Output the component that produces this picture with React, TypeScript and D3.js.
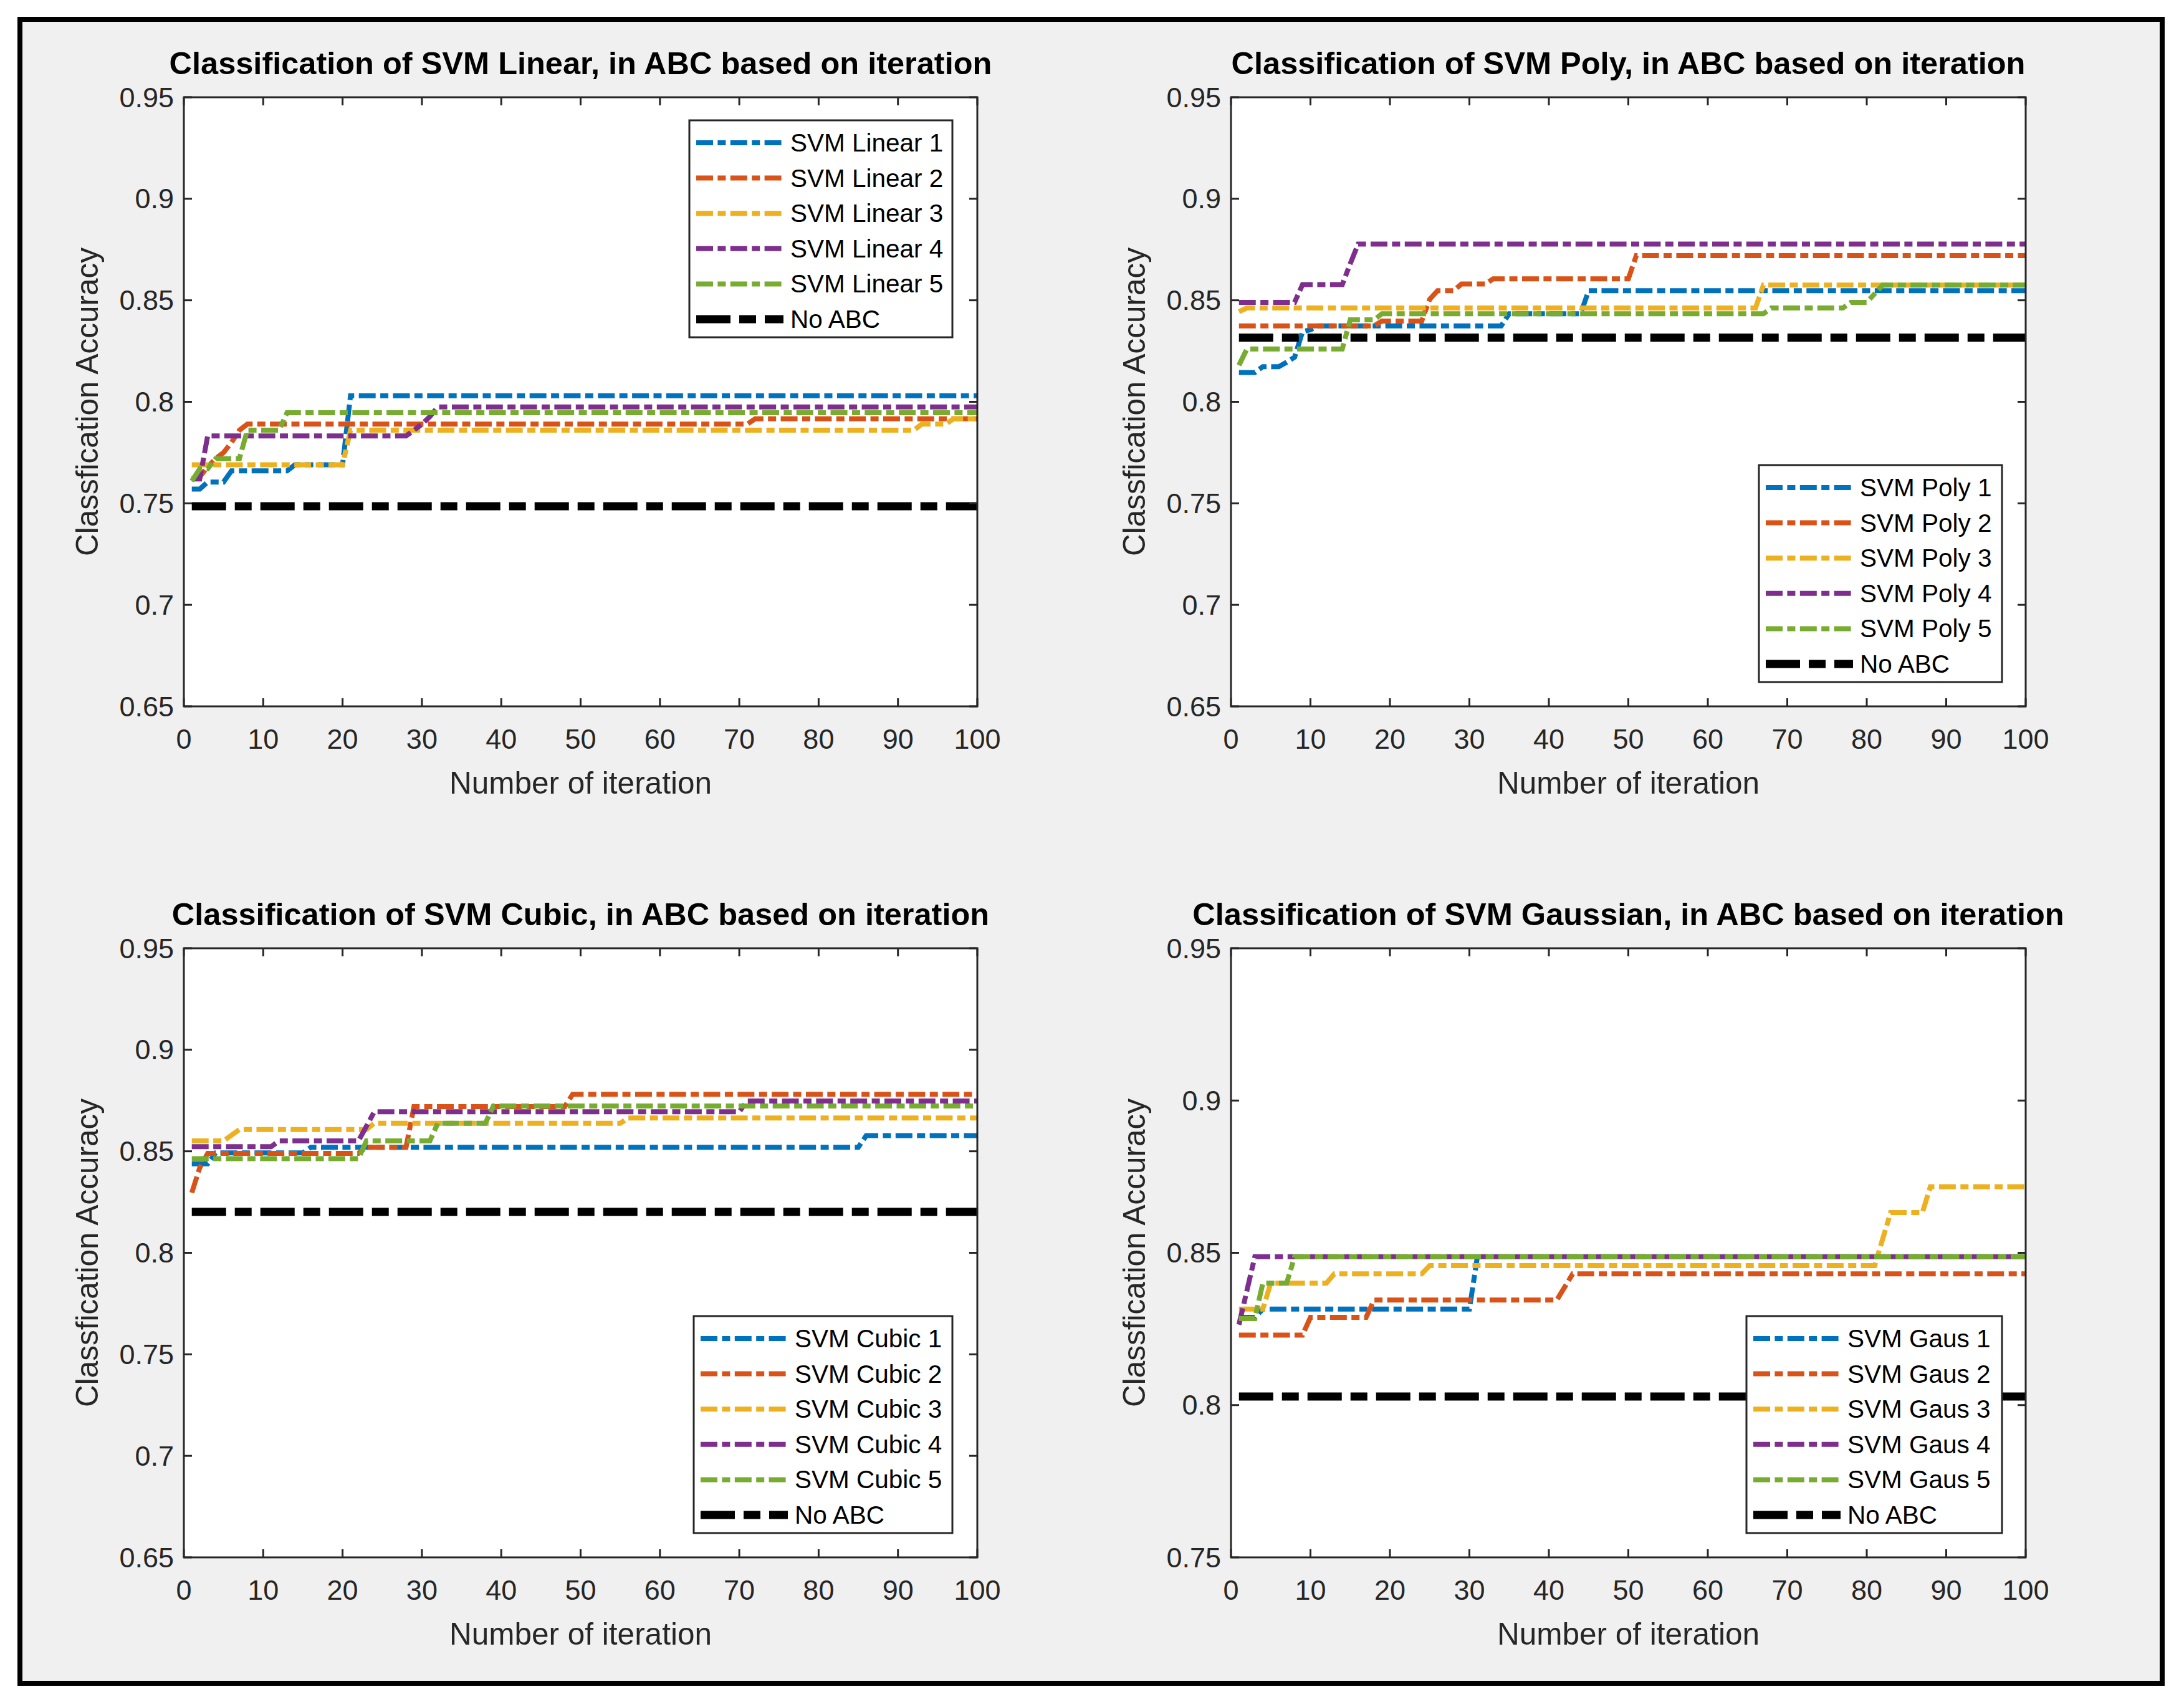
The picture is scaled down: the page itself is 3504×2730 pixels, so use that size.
import React from 'react';
import * as d3 from 'd3';

type Pt = [number, number];

// ---------- tick values ----------
const iterTicks = [0, 10, 20, 30, 40, 50, 60, 70, 80, 90, 100];
const accTicksWide = [0.65, 0.7, 0.75, 0.8, 0.85, 0.9, 0.95];
const accTicksNarrow = [0.75, 0.8, 0.85, 0.9, 0.95];

const seriesColors = ['#0072BD', '#D95319', '#EDB120', '#7E2F8E', '#77AC30'];

// ---------- SVM Linear ----------
const linear1: Pt[] = [[1, 0.757], [2, 0.757], [3, 0.7605], [5, 0.7605], [6, 0.766], [13, 0.766], [14, 0.769], [20, 0.769], [21, 0.803], [100, 0.803]];
const linear2: Pt[] = [[1, 0.762], [2, 0.763], [3, 0.768], [4, 0.772], [5, 0.775], [6, 0.78], [7, 0.786], [8, 0.789], [71, 0.789], [72, 0.7916], [100, 0.7916]];
const linear3: Pt[] = [[1, 0.769], [20, 0.769], [21, 0.786], [92, 0.786], [93, 0.789], [96, 0.789], [97, 0.7916], [100, 0.7916]];
const linear4: Pt[] = [[1, 0.762], [2, 0.762], [3, 0.7832], [28, 0.7832], [29, 0.786], [30, 0.789], [31, 0.7927], [32, 0.7975], [100, 0.7975]];
const linear5: Pt[] = [[1, 0.761], [2, 0.767], [3, 0.767], [4, 0.772], [7, 0.772], [8, 0.786], [12, 0.786], [13, 0.7946], [100, 0.7946]];
const linearNoABC = 0.7486;

// ---------- SVM Poly ----------
const poly1: Pt[] = [[1, 0.8144], [3, 0.8144], [4, 0.8173], [6, 0.8173], [7, 0.8195], [8, 0.822], [9, 0.8345], [10, 0.8355], [11, 0.8374], [34, 0.8374], [35, 0.8434], [44, 0.8434], [45, 0.8547], [100, 0.8547]];
const poly2: Pt[] = [[1, 0.8374], [18, 0.8374], [19, 0.8398], [24, 0.8398], [25, 0.8505], [26, 0.8547], [28, 0.8547], [29, 0.858], [32, 0.858], [33, 0.8606], [50, 0.8606], [51, 0.872], [100, 0.872]];
const poly3: Pt[] = [[1, 0.8444], [2, 0.8462], [66, 0.8462], [67, 0.8575], [100, 0.8575]];
const poly4: Pt[] = [[1, 0.849], [8, 0.849], [9, 0.8577], [14, 0.8577], [15, 0.868], [16, 0.8777], [100, 0.8777]];
const poly5: Pt[] = [[1, 0.818], [2, 0.826], [14, 0.826], [15, 0.8404], [18, 0.8404], [19, 0.8434], [67, 0.8434], [68, 0.8462], [77, 0.8462], [78, 0.849], [80, 0.849], [82, 0.8575], [100, 0.8575]];
const polyNoABC = 0.8316;

// ---------- SVM Cubic ----------
const cubic1: Pt[] = [[1, 0.8438], [3, 0.8438], [4, 0.8492], [15, 0.8492], [16, 0.852], [85, 0.852], [86, 0.8577], [100, 0.8577]];
const cubic2: Pt[] = [[1, 0.8296], [2, 0.8419], [3, 0.849], [22, 0.849], [23, 0.852], [28, 0.852], [29, 0.872], [48, 0.872], [49, 0.8781], [100, 0.8781]];
const cubic3: Pt[] = [[1, 0.8551], [5, 0.8551], [7, 0.8607], [23, 0.8607], [24, 0.8638], [55, 0.8638], [56, 0.8664], [100, 0.8664]];
const cubic4: Pt[] = [[1, 0.8523], [11, 0.8523], [12, 0.8551], [22, 0.8551], [24, 0.8695], [70, 0.8695], [71, 0.8748], [100, 0.8748]];
const cubic5: Pt[] = [[1, 0.8464], [22, 0.8464], [23, 0.8551], [31, 0.8551], [32, 0.8638], [38, 0.8638], [39, 0.8723], [100, 0.8723]];
const cubicNoABC = 0.8202;

// ---------- SVM Gaussian ----------
const gaus1: Pt[] = [[1, 0.8288], [3, 0.8288], [4, 0.8315], [30, 0.8315], [31, 0.8487], [100, 0.8487]];
const gaus2: Pt[] = [[1, 0.823], [9, 0.823], [10, 0.8288], [17, 0.8288], [18, 0.8345], [41, 0.8345], [43, 0.8431], [100, 0.8431]];
const gaus3: Pt[] = [[1, 0.8315], [4, 0.8315], [5, 0.84], [12, 0.84], [13, 0.8431], [24, 0.8431], [25, 0.8458], [81, 0.8458], [83, 0.8632], [87, 0.8632], [88, 0.8717], [100, 0.8717]];
const gaus4: Pt[] = [[1, 0.8264], [3, 0.8487], [100, 0.8487]];
const gaus5: Pt[] = [[1, 0.8284], [3, 0.8284], [4, 0.84], [7, 0.84], [8, 0.8487], [100, 0.8487]];
const gausNoABC = 0.8028;

const linearLabels = ['SVM Linear 1', 'SVM Linear 2', 'SVM Linear 3', 'SVM Linear 4', 'SVM Linear 5'];
const polyLabels = ['SVM Poly 1', 'SVM Poly 2', 'SVM Poly 3', 'SVM Poly 4', 'SVM Poly 5'];
const cubicLabels = ['SVM Cubic 1', 'SVM Cubic 2', 'SVM Cubic 3', 'SVM Cubic 4', 'SVM Cubic 5'];
const gausLabels = ['SVM Gaus 1', 'SVM Gaus 2', 'SVM Gaus 3', 'SVM Gaus 4', 'SVM Gaus 5'];

const FONT = "'Liberation Sans', Arial, Helvetica, sans-serif";
const AXIS = '#262626';
const DASHDOT = '27 7.4 13 7.4';
const BLACKDASH = '55 14 27 14';

interface PanelCfg {
  title: string;
  series: Pt[][];
  labels: string[];
  noABC: number;
  yDomain: [number, number];
  yTicks: number[];
  x0: number; x1: number; y0: number; y1: number;
  legX: number; legY: number; legW: number;
}

const panels: PanelCfg[] = [
  {
    title: 'Classification of SVM Linear, in ABC based on iteration',
    series: [linear1, linear2, linear3, linear4, linear5], labels: linearLabels, noABC: linearNoABC,
    yDomain: [0.65, 0.95], yTicks: accTicksWide,
    x0: 295, x1: 1568, y0: 156, y1: 1133, legX: 1106, legY: 193, legW: 422,
  },
  {
    title: 'Classification of SVM Poly, in ABC based on iteration',
    series: [poly1, poly2, poly3, poly4, poly5], labels: polyLabels, noABC: polyNoABC,
    yDomain: [0.65, 0.95], yTicks: accTicksWide,
    x0: 1975, x1: 3250, y0: 156, y1: 1133, legX: 2822, legY: 746, legW: 390,
  },
  {
    title: 'Classification of SVM Cubic, in ABC based on iteration',
    series: [cubic1, cubic2, cubic3, cubic4, cubic5], labels: cubicLabels, noABC: cubicNoABC,
    yDomain: [0.65, 0.95], yTicks: accTicksWide,
    x0: 295, x1: 1568, y0: 1521, y1: 2498, legX: 1113, legY: 2111, legW: 415,
  },
  {
    title: 'Classification of SVM Gaussian, in ABC based on iteration',
    series: [gaus1, gaus2, gaus3, gaus4, gaus5], labels: gausLabels, noABC: gausNoABC,
    yDomain: [0.75, 0.95], yTicks: accTicksNarrow,
    x0: 1975, x1: 3250, y0: 1521, y1: 2498, legX: 2802, legY: 2111, legW: 410,
  },
];

const fmt = (v: number) => String(+v.toFixed(2));

function Panel({ cfg, idx }: { cfg: PanelCfg; idx: number }) {
  const x = d3.scaleLinear().domain([0, 100]).range([cfg.x0, cfg.x1]);
  const y = d3.scaleLinear().domain(cfg.yDomain).range([cfg.y1, cfg.y0]);
  const line = d3.line<Pt>().x((d) => x(d[0])).y((d) => y(d[1]));
  const clipId = `clip-${idx}`;
  const tickLen = 13;
  const midY = (cfg.y0 + cfg.y1) / 2;
  const midX = (cfg.x0 + cfg.x1) / 2;
  const legH = 348;
  const rowGap = 56.6;
  const legendEntries = [
    ...cfg.labels.map((l, i) => ({ label: l, color: seriesColors[i], w: 8, dash: DASHDOT })),
    { label: 'No ABC', color: '#000', w: 13, dash: BLACKDASH },
  ];
  const baseline: Pt[] = [[1, cfg.noABC], [100, cfg.noABC]];
  return (
    <g>
      <defs>
        <clipPath id={clipId}>
          <rect x={cfg.x0} y={cfg.y0} width={cfg.x1 - cfg.x0} height={cfg.y1 - cfg.y0} />
        </clipPath>
      </defs>
      <rect x={cfg.x0} y={cfg.y0} width={cfg.x1 - cfg.x0} height={cfg.y1 - cfg.y0} fill="#fff" />
      <g clipPath={`url(#${clipId})`}>
        {cfg.series.map((s, i) => (
          <path key={i} d={line(s) || ''} fill="none" stroke={seriesColors[i]} strokeWidth={8}
            strokeDasharray={DASHDOT} strokeLinejoin="miter" />
        ))}
        <path d={line(baseline) || ''} fill="none" stroke="#000" strokeWidth={13} strokeDasharray={BLACKDASH} />
      </g>
      {iterTicks.map((t) => (
        <g key={'x' + t}>
          <line x1={x(t)} x2={x(t)} y1={cfg.y1} y2={cfg.y1 - tickLen} stroke={AXIS} strokeWidth={3} />
          <line x1={x(t)} x2={x(t)} y1={cfg.y0} y2={cfg.y0 + tickLen} stroke={AXIS} strokeWidth={3} />
          <text x={x(t)} y={cfg.y1 + 68} fontSize={45} textAnchor="middle" fill={AXIS}>{t}</text>
        </g>
      ))}
      {cfg.yTicks.map((t) => (
        <g key={'y' + t}>
          <line x1={cfg.x0} x2={cfg.x0 + tickLen} y1={y(t)} y2={y(t)} stroke={AXIS} strokeWidth={3} />
          <line x1={cfg.x1} x2={cfg.x1 - tickLen} y1={y(t)} y2={y(t)} stroke={AXIS} strokeWidth={3} />
          <text x={cfg.x0 - 16} y={y(t)} fontSize={45} textAnchor="end" dominantBaseline="central" fill={AXIS}>{fmt(t)}</text>
        </g>
      ))}
      <rect x={cfg.x0} y={cfg.y0} width={cfg.x1 - cfg.x0} height={cfg.y1 - cfg.y0} fill="none" stroke={AXIS} strokeWidth={3} />
      <text x={midX} y={cfg.y0 - 37} fontSize={50.5} fontWeight="bold" textAnchor="middle" fill="#000">{cfg.title}</text>
      <text x={midX} y={cfg.y1 + 140} fontSize={49.5} textAnchor="middle" fill={AXIS}>Number of iteration</text>
      <text transform={`translate(${cfg.x0 - 138},${midY}) rotate(-90)`} fontSize={49.5} textAnchor="middle" fill={AXIS}>Classfication Accuracy</text>
      <g>
        <rect x={cfg.legX} y={cfg.legY} width={cfg.legW} height={legH} fill="#fff" stroke={AXIS} strokeWidth={3} />
        {legendEntries.map((e, i) => {
          const cy = cfg.legY + 36 + i * rowGap;
          return (
            <g key={i}>
              <line x1={cfg.legX + 11} x2={cfg.legX + 151} y1={cy} y2={cy} stroke={e.color} strokeWidth={e.w} strokeDasharray={e.dash} />
              <text x={cfg.legX + 162} y={cy} fontSize={40.5} dominantBaseline="central" fill="#000">{e.label}</text>
            </g>
          );
        })}
      </g>
    </g>
  );
}

export default function App() {
  return (
    <svg width={3504} height={2730} viewBox="0 0 3504 2730" fontFamily={FONT}
      style={{ position: 'absolute', left: 0, top: 0, display: 'block' }}>
      <rect x={0} y={0} width={3504} height={2730} fill="#fff" />
      <rect x={32} y={31} width={3437} height={2669} fill="#f0f0f0" stroke="#000" strokeWidth={8} />
      {panels.map((p, i) => <Panel key={i} cfg={p} idx={i} />)}
    </svg>
  );
}
